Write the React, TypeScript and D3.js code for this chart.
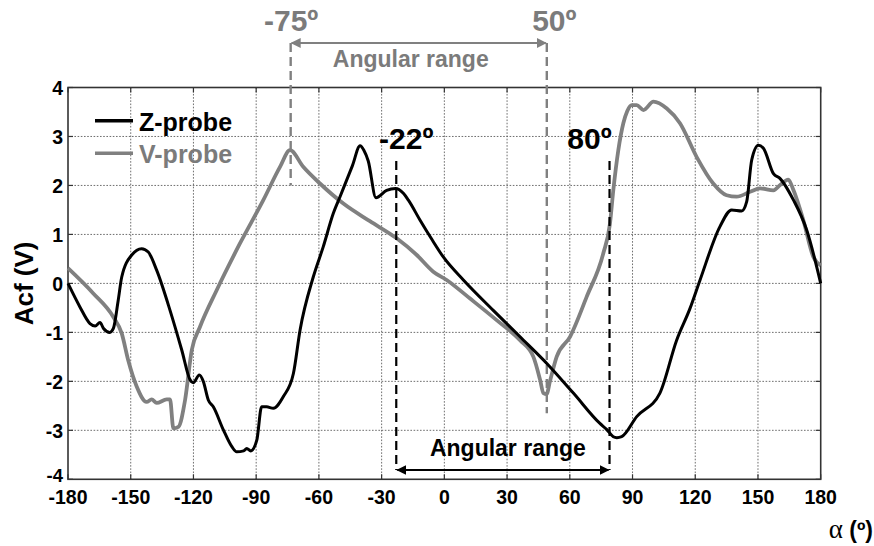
import React from "react";
import * as d3 from "d3";

const xTicks = [-180, -150, -120, -90, -60, -30, 0, 30, 60, 90, 120, 150, 180];
const yTicks = [-4, -3, -2, -1, 0, 1, 2, 3, 4];

const zAngles = [-180, -174.3, -169.5, -167, -164.7, -163, -160, -158.3, -156, -154.3, -149.5, -144.8, -141.6, -137.6, -131.2, -125.6, -121.6, -120.1, -117.2, -115.3, -112.9, -110.5, -105.7, -101.7, -99.3, -96, -94.5, -92.6, -89.7, -87.4, -85, -81.8, -77, -72.2, -69, -62.7, -57.9, -53.1, -49.9, -44, -40.3, -38.5, -36.4, -32.7, -27.6, -23.3, -19.6, -17.2, -11.6, -6, -0.5, 9.1, 23.4, 36.2, 48.9, 61.7, 74.4, 77.6, 80.8, 82.5, 84.8, 92, 103.1, 111.1, 117.5, 122.3, 131.8, 137.4, 142.2, 144.6, 147, 150.2, 152.6, 157.4, 160.6, 167, 173.3, 180];
const zValues = [0, -0.48, -0.82, -0.87, -0.8, -0.92, -1.0, -0.92, -0.35, 0.13, 0.58, 0.71, 0.64, 0.27, -0.55, -1.36, -1.97, -2.03, -1.87, -2.0, -2.38, -2.52, -2.99, -3.33, -3.44, -3.42, -3.37, -3.42, -3.2, -2.52, -2.52, -2.55, -2.31, -1.84, -0.95, 0.13, 0.75, 1.43, 1.77, 2.4, 2.81, 2.72, 2.5, 1.75, 1.9, 1.94, 1.84, 1.7, 1.29, 0.9, 0.54, 0.07, -0.55, -1.09, -1.63, -2.24, -2.86, -2.98, -3.13, -3.15, -3.13, -2.72, -2.24, -1.16, -0.51, 0.07, 1.16, 1.5, 1.48, 1.67, 2.52, 2.82, 2.76, 2.24, 2.14, 1.7, 1.09, 0.0];

const vAngles = [-180, -168, -158.4, -154.3, -151.2, -147.1, -142.4, -140, -137.6, -132.8, -131.2, -129.6, -127.2, -124, -120.8, -116.9, -108.9, -97.7, -86.6, -78.6, -73.8, -67.5, -59.5, -48.3, -35.6, -22.8, -13.2, -5.3, 1.1, 12.3, 25, 36.2, 42.6, 45.8, 47.4, 48.9, 50.5, 53.7, 60.1, 68.1, 76, 79.2, 80.8, 83.2, 85.6, 87.5, 89.6, 92, 95.2, 100, 106.4, 112.7, 120.7, 128.6, 135, 139.8, 146.2, 151, 157.4, 160.6, 164.5, 167, 171.7, 176.5, 180];
const vValues = [0.31, -0.2, -0.68, -1.02, -1.57, -2.11, -2.42, -2.37, -2.44, -2.37, -2.37, -2.96, -2.93, -2.38, -1.36, -0.89, -0.14, 0.82, 1.7, 2.38, 2.72, 2.38, 2.04, 1.63, 1.27, 0.92, 0.58, 0.24, 0.07, -0.31, -0.75, -1.16, -1.5, -1.97, -2.24, -2.26, -2.0, -1.5, -1.09, -0.27, 0.61, 1.22, 1.9, 2.72, 3.27, 3.52, 3.64, 3.64, 3.54, 3.71, 3.57, 3.27, 2.58, 2.04, 1.8, 1.77, 1.87, 1.94, 1.9, 2.01, 2.12, 1.9, 1.29, 0.54, 0.37];

const seriesNames = ["Z-probe", "V-probe"];
const seriesColors = ["#000000", "#808080"];

const vRangeAngles = [-73.5, 49];
const vRangeLabels = ["-75º", "50º"];
const zRangeAngles = [-23, 79];
const zRangeLabels = ["-22º", "80º"];
const rangeTitle = "Angular range";

const FONT = "'Liberation Sans', Arial, Helvetica, sans-serif";
const GRAY_TEXT = "#7b7b7b";

export default function App() {
  const W = 874, H = 546;
  const x = d3.scaleLinear().domain([-180, 180]).range([68, 820.7]);
  const y = d3.scaleLinear().domain([-4, 4]).range([479.3, 87.5]);
  const x0 = x.range()[0], x1 = x.range()[1];
  const yTop = y.range()[1], yBot = y.range()[0];

  const line = d3
    .line<[number, number]>()
    .x((d) => x(d[0]))
    .y((d) => y(d[1]))
    .curve(d3.curveMonotoneX);

  const zData: [number, number][] = zAngles.map((a, i) => [a, zValues[i]]);
  const vData: [number, number][] = vAngles.map((a, i) => [a, vValues[i]]);

  const tickLen = 5;
  const axisColor = "#333";

  const gL = x(vRangeAngles[0]);
  const gR = x(vRangeAngles[1]);
  const bL = x(zRangeAngles[0]);
  const bR = x(zRangeAngles[1]);
  const bracketY = 43;
  const arrowY = 470;

  return (
    <svg width={W} height={H} style={{ position: "absolute", left: 0, top: 0, background: "#fff" }} fontFamily={FONT}>
      <defs>
        <marker id="arrB" viewBox="0 0 10 10" refX="9" refY="5" markerWidth="5" markerHeight="5" orient="auto-start-reverse" markerUnits="strokeWidth">
          <path d="M0,0 L10,5 L0,10 z" fill="#000" />
        </marker>
        <marker id="arrG" viewBox="0 0 10 10" refX="9" refY="5" markerWidth="5" markerHeight="5" orient="auto-start-reverse" markerUnits="strokeWidth">
          <path d="M0,0 L10,5 L0,10 z" fill="#808080" />
        </marker>
      </defs>
      <rect x={0} y={0} width={W} height={H} fill="#fff" />

      {/* grid */}
      <g stroke="#5e5e5e" strokeWidth={0.9} strokeDasharray="1.6,1.6">
        {xTicks.slice(1, -1).map((t) => (
          <line key={"gx" + t} x1={x(t)} x2={x(t)} y1={yTop} y2={yBot} />
        ))}
        {yTicks.slice(1, -1).map((t) => (
          <line key={"gy" + t} x1={x0} x2={x1} y1={y(t)} y2={y(t)} />
        ))}
      </g>

      {/* ticks inward */}
      <g stroke={axisColor} strokeWidth={1.2}>
        {xTicks.map((t) => (
          <g key={"tx" + t}>
            <line x1={x(t)} x2={x(t)} y1={yBot} y2={yBot - tickLen} />
            <line x1={x(t)} x2={x(t)} y1={yTop} y2={yTop + tickLen} />
          </g>
        ))}
        {yTicks.map((t) => (
          <g key={"ty" + t}>
            <line x1={x0} x2={x0 + tickLen} y1={y(t)} y2={y(t)} />
            <line x1={x1} x2={x1 - tickLen} y1={y(t)} y2={y(t)} />
          </g>
        ))}
      </g>

      {/* border */}
      <rect x={x0} y={yTop} width={x1 - x0} height={yBot - yTop} fill="none" stroke={axisColor} strokeWidth={1.6} />

      {/* tick labels */}
      <g fontWeight="bold" fill="#000">
        {xTicks.map((t) => (
          <text key={"lx" + t} x={x(t)} y={503.5} textAnchor="middle" fontSize={19.5}>
            {t}
          </text>
        ))}
        {yTicks.map((t) => (
          <text key={"ly" + t} x={63} y={y(t) + (t === -4 ? 2.5 : 7.5)} textAnchor="end" fontSize={t === -4 ? 18.5 : 19.5}>
            {t}
          </text>
        ))}
      </g>

      {/* axis titles */}
      <text transform={`translate(33,${(yTop + yBot) / 2}) rotate(-90)`} textAnchor="middle" fontWeight="bold" fontSize={26} fill="#000">
        Acf (V)
      </text>
      <text x={873} y={538} textAnchor="end" fill="#000">
        <tspan fontFamily="'Liberation Serif', 'DejaVu Serif', serif" fontSize={27}>α</tspan>
        <tspan fontWeight="bold" fontSize={23}> (º)</tspan>
      </text>

      {/* V-probe angular range annotation (gray) */}
      <g stroke="#808080" strokeWidth={2.4} fill="none">
        <line x1={gL} x2={gL} y1={bracketY} y2={y(2.0)} strokeDasharray="9,5" />
        <line x1={gR} x2={gR} y1={bracketY} y2={y(-2.65)} strokeDasharray="9,5" />
        <line x1={gL + 1} x2={gR - 1} y1={bracketY} y2={bracketY} strokeWidth={2} markerStart="url(#arrG)" markerEnd="url(#arrG)" />
      </g>
      <g fontWeight="bold" fill={GRAY_TEXT}>
        <text x={gL + 0.5} y={31} textAnchor="middle" fontSize={30}>
          {vRangeLabels[0]}
        </text>
        <text x={gR + 7.5} y={31} textAnchor="middle" fontSize={30}>
          {vRangeLabels[1]}
        </text>
        <text x={(gL + gR) / 2 - 8} y={67} textAnchor="middle" fontSize={23}>
          {rangeTitle}
        </text>
      </g>

      {/* curves */}
      <path d={line(vData) || ""} fill="none" stroke={seriesColors[1]} strokeWidth={3.8} strokeLinejoin="round" />
      <path d={line(zData) || ""} fill="none" stroke={seriesColors[0]} strokeWidth={3} strokeLinejoin="round" />

      {/* Z-probe angular range annotation (black) */}
      <g stroke="#000" strokeWidth={2.2} fill="none">
        <line x1={bL} x2={bL} y1={y(2.5)} y2={arrowY} strokeDasharray="9,5" />
        <line x1={bR} x2={bR} y1={y(2.5)} y2={arrowY} strokeDasharray="9,5" />
        <line x1={bL + 1} x2={bR - 1} y1={arrowY} y2={arrowY} strokeWidth={2} markerStart="url(#arrB)" markerEnd="url(#arrB)" />
      </g>
      <g fontWeight="bold" fill="#000">
        <text x={bL + 10} y={149} textAnchor="middle" fontSize={30}>
          {zRangeLabels[0]}
        </text>
        <text x={bR - 20} y={149} textAnchor="middle" fontSize={30}>
          {zRangeLabels[1]}
        </text>
        <text x={(bL + bR) / 2 + 5} y={456} textAnchor="middle" fontSize={23}>
          {rangeTitle}
        </text>
      </g>

      {/* legend */}
      <g>
        {seriesNames.map((n, i) => (
          <g key={n}>
            <line x1={95} x2={133} y1={120.7 + i * 32.5} y2={120.7 + i * 32.5} stroke={seriesColors[i]} strokeWidth={3.6} />
            <text x={139} y={130.5 + i * 32.5} fontWeight="bold" fontSize={25} fill={i === 0 ? "#000" : GRAY_TEXT}>
              {n}
            </text>
          </g>
        ))}
      </g>
    </svg>
  );
}
